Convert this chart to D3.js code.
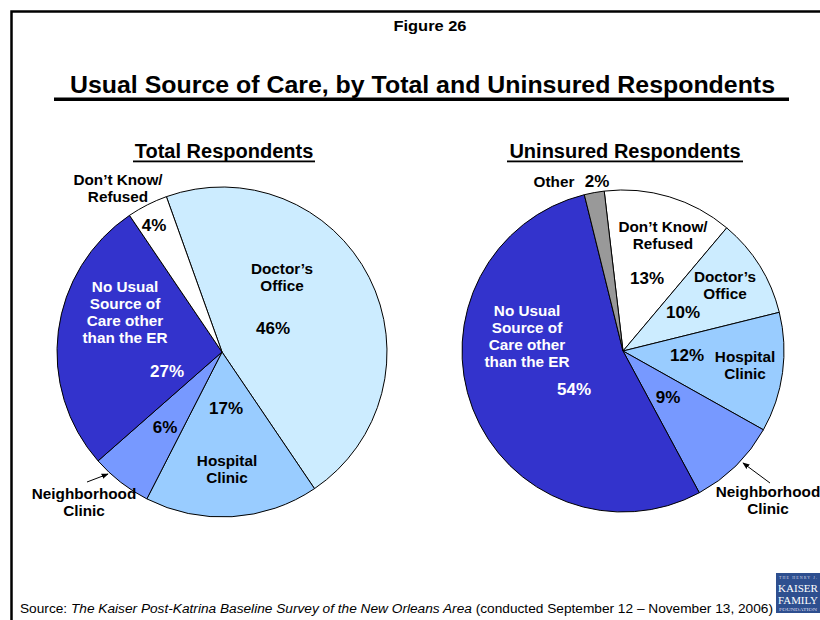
<!DOCTYPE html>
<html>
<head>
<meta charset="utf-8">
<script src="https://cdn.jsdelivr.net/npm/d3@7"></script>
<style>
  html, body { margin: 0; padding: 0; background: #fff; }
  svg { display: block; font-family: "Liberation Sans", Arial, sans-serif; }
</style>
</head>
<body>
<div id="chart"></div>
<script>
// categories & values (clockwise from each pie's first slice)
const totalCategories = ["Doctor's Office", "Hospital Clinic", "Neighborhood Clinic", "No Usual Source", "Don't Know/Refused"];
const totalValues = [46, 17, 6, 27, 4];

const uninsuredCategories = ["Don't Know/Refused", "Doctor's Office", "Hospital Clinic", "Neighborhood Clinic", "No Usual Source", "Other"];
const uninsuredValues = [13, 10, 12, 9, 54, 2];

const colorCategories = ["Doctor's Office", "Hospital Clinic", "Neighborhood Clinic", "No Usual Source", "Don't Know/Refused", "Other"];
const colorValues = ["#CCECFF", "#99CCFF", "#7799FF", "#3333CC", "#FFFFFF", "#999999"];

const labelLines = {
  "Doctor's Office": ["Doctor\u2019s", "Office"],
  "Hospital Clinic": ["Hospital", "Clinic"],
  "Neighborhood Clinic": ["Neighborhood", "Clinic"],
  "No Usual Source": ["No Usual", "Source of", "Care other", "than the ER"],
  "Don't Know/Refused": ["Don\u2019t Know/", "Refused"],
  "Other": ["Other"]
};

const width = 820, height = 620;

const svg = d3.select("#chart").append("svg")
  .attr("width", width)
  .attr("height", height);

const color = d3.scaleOrdinal().domain(colorCategories).range(colorValues);

// frame
svg.append("path")
  .attr("d", "M11.5,620 V11.5 H820")
  .attr("fill", "none")
  .attr("stroke", "#000")
  .attr("stroke-width", 2.5);

svg.append("text")
  .attr("x", 430).attr("y", 31)
  .attr("text-anchor", "middle")
  .attr("font-size", 14).attr("font-weight", "bold")
  .attr("textLength", 73).attr("lengthAdjust", "spacingAndGlyphs")
  .text("Figure 26");

svg.append("text")
  .attr("x", 70).attr("y", 92.5)
  .attr("font-size", 23).attr("font-weight", "bold")
  .attr("textLength", 705).attr("lengthAdjust", "spacingAndGlyphs")
  .text("Usual Source of Care, by Total and Uninsured Respondents");

svg.append("rect")
  .attr("x", 54).attr("y", 97.5).attr("width", 735).attr("height", 3.5)
  .attr("fill", "#000");

// label offsets relative to pie centre: name position, pct position
const pies = [
  {
    title: "Total Respondents", cx: 222, cy: 352, r: 165, start: -19.7,
    cats: totalCategories, vals: totalValues, titleW: 182,
    labels: {
      "Doctor's Office": { name: [60, -78], pct: [51, -18] },
      "Hospital Clinic": { name: [5, 114], pct: [4, 62] },
      "Neighborhood Clinic": { name: [-138, 147], pct: [-57, 81] },
      "No Usual Source": { name: [-97, -60], pct: [-55, 25], white: true },
      "Don't Know/Refused": { name: [-104, -167], pct: [-68, -121] }
    },
    arrow: [[-135, 130], [-114, 122]]
  },
  {
    title: "Uninsured Respondents", cx: 623, cy: 351, r: 161, start: -6.7,
    cats: uninsuredCategories, vals: uninsuredValues, titleW: 236,
    labels: {
      "Don't Know/Refused": { name: [40, -119], pct: [24, -67] },
      "Doctor's Office": { name: [102, -69], pct: [60, -33] },
      "Hospital Clinic": { name: [122, 11], pct: [64, 10] },
      "Neighborhood Clinic": { name: [145, 146], pct: [45, 52] },
      "No Usual Source": { name: [-96, -35], pct: [-49, 44], white: true },
      "Other": { name: [-69, -164], pct: [-26, -164] }
    },
    arrow: [[147, 132], [120, 112]]
  }
];

const defs = svg.append("defs");
defs.append("marker")
  .attr("id", "arrowhead")
  .attr("viewBox", "0 0 10 10")
  .attr("refX", 9).attr("refY", 5)
  .attr("markerWidth", 7).attr("markerHeight", 7)
  .attr("orient", "auto")
  .append("path")
  .attr("d", "M0,1 L10,5 L0,9 Z")
  .attr("fill", "#000");

pies.forEach(p => {
  const data = p.cats.map((c, i) => ({ cat: c, value: p.vals[i] }));
  const a0 = p.start * Math.PI / 180;

  const pie = d3.pie()
    .sort(null)
    .value(d => d.value)
    .startAngle(a0)
    .endAngle(a0 + 2 * Math.PI);

  const arc = d3.arc().innerRadius(0).outerRadius(p.r);

  // subtitle, underlined
  svg.append("text")
    .attr("x", p.cx + 2).attr("y", 158)
    .attr("text-anchor", "middle")
    .attr("font-size", 20).attr("font-weight", "bold")
    .text(p.title);
  svg.append("rect")
    .attr("x", p.cx + 2 - p.titleW / 2).attr("y", 160.5)
    .attr("width", p.titleW).attr("height", 1.8)
    .attr("fill", "#000");

  const g = svg.append("g").attr("transform", `translate(${p.cx},${p.cy})`);

  g.selectAll("path")
    .data(pie(data))
    .join("path")
    .attr("d", arc)
    .attr("fill", d => color(d.data.cat))
    .attr("stroke", "#000")
    .attr("stroke-width", 1);

  const lab = g.append("g")
    .attr("font-weight", "bold")
    .attr("text-anchor", "middle");

  data.forEach(d => {
    const L = p.labels[d.cat];
    const fill = L.white ? "#fff" : "#000";
    const lines = labelLines[d.cat];
    const tx = lab.append("text")
      .attr("x", L.name[0]).attr("y", L.name[1])
      .attr("font-size", 15.3)
      .attr("fill", fill);
    lines.forEach((s, i) => {
      tx.append("tspan")
        .attr("x", L.name[0])
        .attr("dy", i === 0 ? 0 : 17)
        .text(s);
    });
    lab.append("text")
      .attr("x", L.pct[0]).attr("y", L.pct[1])
      .attr("font-size", 17)
      .attr("fill", fill)
      .text(d.value + "%");
  });

  g.append("line")
    .attr("x1", p.arrow[0][0]).attr("y1", p.arrow[0][1])
    .attr("x2", p.arrow[1][0]).attr("y2", p.arrow[1][1])
    .attr("stroke", "#000")
    .attr("stroke-width", 1)
    .attr("marker-end", "url(#arrowhead)");
});

// source line
const src = svg.append("text")
  .attr("x", 20).attr("y", 613)
  .attr("font-size", 12.5)
  .attr("textLength", 753).attr("lengthAdjust", "spacingAndGlyphs");
src.append("tspan").text("Source: ");
src.append("tspan").attr("font-style", "italic")
  .text("The Kaiser Post-Katrina Baseline Survey of the New Orleans Area");
src.append("tspan").text(" (conducted September 12 \u2013 November 13, 2006)");

// logo block
const logo = svg.append("g")
  .attr("transform", "translate(776,573)")
  .attr("font-family", "Liberation Serif, serif");
logo.append("rect").attr("width", 44).attr("height", 40).attr("fill", "#2E4F8F");
logo.append("text").attr("x", 3).attr("y", 6).attr("font-size", 4)
  .attr("fill", "#dde").attr("textLength", 38).text("THE HENRY J.");
logo.append("text").attr("x", 2).attr("y", 19).attr("font-size", 11)
  .attr("fill", "#fff").attr("textLength", 40).attr("lengthAdjust", "spacingAndGlyphs").text("KAISER");
logo.append("text").attr("x", 2).attr("y", 31).attr("font-size", 11)
  .attr("fill", "#fff").attr("textLength", 40).attr("lengthAdjust", "spacingAndGlyphs").text("FAMILY");
logo.append("text").attr("x", 3).attr("y", 38).attr("font-size", 3.5)
  .attr("fill", "#dde").attr("textLength", 38).attr("lengthAdjust", "spacingAndGlyphs").text("FOUNDATION");
</script>
</body>
</html>
